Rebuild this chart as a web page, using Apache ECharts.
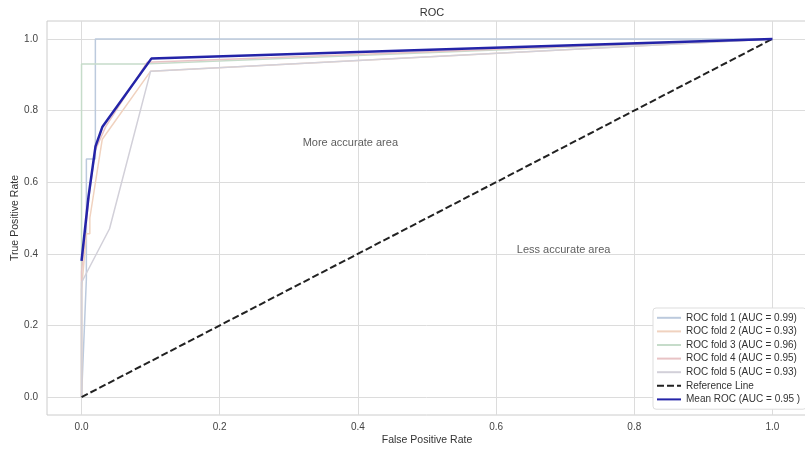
<!DOCTYPE html>
<html>
<head>
<meta charset="utf-8">
<script src="https://cdn.jsdelivr.net/npm/echarts@6/dist/echarts.min.js"></script>
<style>
  html, body { margin: 0; padding: 0; background: #ffffff; }
  #chart { width: 805px; height: 454px; }
</style>
</head>
<body>
<div id="chart"></div>
<script>
// ROC curves of a 5-fold cross-validation, [FPR, TPR] pairs
const fold1 = [[0, 0], [0.007, 0.33], [0.007, 0.665], [0.02, 0.665], [0.02, 1.0], [1, 1]];
const fold2 = [[0, 0], [0, 0.3], [0.007, 0.456], [0.012, 0.456], [0.012, 0.5], [0.03, 0.72], [0.1, 0.91], [1, 1]];
const fold3 = [[0, 0], [0, 0.93], [0.09, 0.93], [1, 1]];
const fold4 = [[0, 0], [0, 0.35], [0.01, 0.55], [0.02, 0.69], [0.035, 0.755], [0.095, 0.935], [1, 1]];
const fold5 = [[0, 0], [0, 0.32], [0.0405, 0.47], [0.1, 0.91], [1, 1]];
const meanRoc = [[0, 0.38], [0.0101, 0.56], [0.0202, 0.70], [0.0303, 0.755], [0.101, 0.945], [1, 1]];
const referenceLine = [[0, 0], [1, 1]];

const foldNames = [
  'ROC fold 1 (AUC = 0.99)',
  'ROC fold 2 (AUC = 0.93)',
  'ROC fold 3 (AUC = 0.96)',
  'ROC fold 4 (AUC = 0.95)',
  'ROC fold 5 (AUC = 0.93)'
];
const referenceName = 'Reference Line';
const meanName = 'Mean ROC (AUC = 0.95 )';

const tickValues = [0, 0.2, 0.4, 0.6, 0.8, 1.0];
const areaNotes = [[0.32, 0.70, 'More accurate area'], [0.63, 0.40, 'Less accurate area']];

const foldColors = ['#bccadd', '#f0d2bf', '#c6dcca', '#e8c3c5', '#d2d0d9'];
const FONT = '"Liberation Sans", Arial, sans-serif';

const foldSeries = [fold1, fold2, fold3, fold4, fold5].map((d, i) => ({
  name: foldNames[i],
  type: 'line',
  data: d,
  symbol: 'none',
  silent: true,
  animation: false,
  lineStyle: { color: foldColors[i], width: 1.5 },
  itemStyle: { color: foldColors[i] },
  z: 2
}));

const axisCommon = {
  type: 'value',
  min: -0.05,
  max: 1.05,
  axisLine: { show: false },
  axisTick: { show: false, customValues: tickValues },
  splitLine: { show: true, lineStyle: { color: '#dcdcdc', width: 1 } },
  axisLabel: {
    customValues: tickValues,
    formatter: v => v.toFixed(1),
    color: '#444',
    fontFamily: FONT,
    fontSize: 10
  },
  nameLocation: 'middle',
  nameMoveOverlap: false,
  nameTextStyle: { color: '#333', fontFamily: FONT, fontSize: 10.5 }
};

const chart = echarts.init(document.getElementById('chart'), null, { renderer: 'canvas' });
chart.setOption({
  backgroundColor: '#ffffff',
  animation: false,
  title: {
    text: 'ROC',
    left: 427,
    top: 2,
    textAlign: 'center',
    textStyle: { color: '#333', fontFamily: FONT, fontSize: 11, fontWeight: 'normal' }
  },
  grid: {
    left: 47,
    top: 21,
    width: 760,
    height: 394,
    containLabel: false,
    outerBoundsMode: 'none',
    show: true,
    borderColor: '#cccccc',
    borderWidth: 1,
    backgroundColor: '#ffffff'
  },
  xAxis: Object.assign({}, axisCommon, {
    name: 'False Positive Rate',
    nameGap: 20,
    axisLabel: Object.assign({}, axisCommon.axisLabel, { margin: 7 })
  }),
  yAxis: Object.assign({}, axisCommon, {
    name: 'True Positive Rate',
    nameGap: 26,
    axisLabel: Object.assign({}, axisCommon.axisLabel, { margin: 9 })
  }),
  legend: {
    orient: 'vertical',
    left: 653,
    top: 308,
    padding: [3, 6, 3, 3],
    itemWidth: 24,
    itemHeight: 13.6,
    itemGap: 0,
    // legend keys are plain line samples: hide the marker, keep the stroke
    itemStyle: { color: 'rgba(0,0,0,0)', borderWidth: 0, opacity: 0 },
    backgroundColor: '#ffffff',
    borderColor: '#dddddd',
    borderWidth: 1,
    borderRadius: 3,
    selectedMode: false,
    textStyle: { color: '#333', fontFamily: FONT, fontSize: 10, lineHeight: 13.6 },
    data: foldNames.concat([referenceName, meanName])
  },
  series: foldSeries.concat([
    {
      name: referenceName,
      type: 'line',
      data: referenceLine,
      symbol: 'none',
      silent: true,
      lineStyle: { color: '#222', width: 2, type: [7, 3] },
      itemStyle: { color: '#222' },
      z: 3
    },
    {
      name: meanName,
      type: 'line',
      data: meanRoc,
      symbol: 'none',
      silent: true,
      lineStyle: { color: '#2424a8', width: 2.5 },
      itemStyle: { color: '#2424a8' },
      z: 4
    },
    {
      name: 'notes',
      type: 'scatter',
      data: areaNotes,
      symbolSize: 0,
      silent: true,
      z: 5,
      label: {
        show: true,
        position: [0, 2],
        align: 'left',
        verticalAlign: 'bottom',
        formatter: p => p.data[2],
        color: '#333',
        fontFamily: FONT,
        fontSize: 11
      }
    }
  ])
});
</script>
</body>
</html>
